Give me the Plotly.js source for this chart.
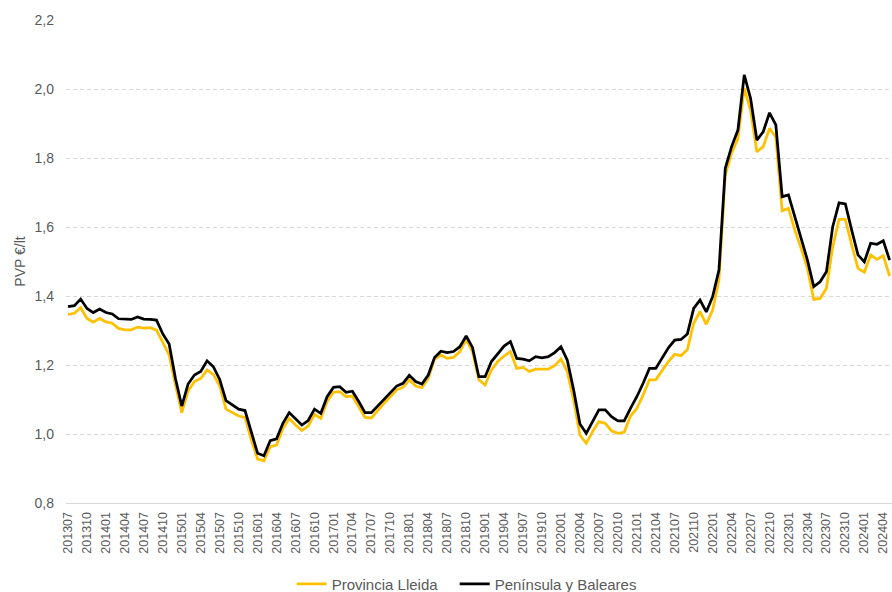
<!DOCTYPE html>
<html>
<head>
<meta charset="utf-8">
<script src="https://cdn.plot.ly/plotly-3.0.1.min.js"></script>
<style>
  html, body { margin: 0; padding: 0; background: #ffffff; }
  #chart { width: 892px; height: 592px; }
</style>
</head>
<body>
<div id="chart"></div>
<script>
// Months (categories)
const months = [
  '201307','201308','201309','201310','201311','201312',
  '201401','201402','201403','201404','201405','201406','201407','201408','201409','201410','201411','201412',
  '201501','201502','201503','201504','201505','201506','201507','201508','201509','201510','201511','201512',
  '201601','201602','201603','201604','201605','201606','201607','201608','201609','201610','201611','201612',
  '201701','201702','201703','201704','201705','201706','201707','201708','201709','201710','201711','201712',
  '201801','201802','201803','201804','201805','201806','201807','201808','201809','201810','201811','201812',
  '201901','201902','201903','201904','201905','201906','201907','201908','201909','201910','201911','201912',
  '202001','202002','202003','202004','202005','202006','202007','202008','202009','202010','202011','202012',
  '202101','202102','202103','202104','202105','202106','202107','202108','202109','202110','202111','202112',
  '202201','202202','202203','202204','202205','202206','202207','202208','202209','202210','202211','202212',
  '202301','202302','202303','202304','202305','202306','202307','202308','202309','202310','202311','202312',
  '202401','202402','202403','202404','202405'
];

// Provincia Lleida (€/lt)
const lleida = [
  1.347,1.350,1.366,1.335,1.324,1.335,
  1.325,1.321,1.306,1.302,1.302,1.310,1.307,1.308,1.301,1.263,1.229,1.142,
  1.062,1.125,1.152,1.161,1.186,1.172,1.140,1.072,1.062,1.052,1.048,0.983,
  0.927,0.922,0.963,0.968,1.016,1.045,1.026,1.010,1.023,1.057,1.045,1.094,
  1.121,1.123,1.108,1.110,1.079,1.048,1.046,1.068,1.089,1.108,1.128,1.135,
  1.157,1.139,1.134,1.161,1.217,1.229,1.219,1.222,1.239,1.274,1.239,1.157,
  1.142,1.186,1.210,1.226,1.239,1.190,1.193,1.181,1.188,1.188,1.188,1.198,
  1.217,1.181,1.099,0.997,0.973,1.007,1.036,1.031,1.009,1.002,1.005,1.052,
  1.074,1.113,1.157,1.157,1.184,1.210,1.231,1.227,1.245,1.321,1.355,1.318,
  1.359,1.446,1.751,1.814,1.857,2.002,1.939,1.818,1.833,1.886,1.860,1.647,
  1.654,1.591,1.538,1.480,1.390,1.393,1.422,1.543,1.622,1.622,1.548,1.480,
  1.469,1.519,1.506,1.517,1.458
];

// Península y Baleares (€/lt)
const peninsula = [
  1.369,1.372,1.391,1.364,1.352,1.362,
  1.352,1.348,1.334,1.333,1.332,1.339,1.333,1.332,1.330,1.290,1.261,1.161,
  1.081,1.145,1.171,1.181,1.212,1.195,1.158,1.097,1.084,1.072,1.068,1.002,
  0.944,0.937,0.981,0.986,1.031,1.062,1.043,1.026,1.039,1.072,1.060,1.108,
  1.135,1.137,1.121,1.124,1.094,1.062,1.062,1.082,1.100,1.120,1.139,1.147,
  1.170,1.152,1.145,1.171,1.222,1.240,1.236,1.239,1.253,1.284,1.251,1.166,
  1.166,1.210,1.234,1.255,1.268,1.219,1.217,1.212,1.224,1.221,1.224,1.236,
  1.253,1.214,1.128,1.029,1.002,1.036,1.070,1.070,1.050,1.038,1.038,1.074,
  1.108,1.147,1.190,1.190,1.219,1.250,1.272,1.274,1.290,1.364,1.388,1.354,
  1.398,1.475,1.770,1.833,1.881,2.041,1.973,1.852,1.876,1.931,1.896,1.688,
  1.693,1.630,1.572,1.504,1.427,1.441,1.470,1.601,1.670,1.667,1.591,1.519,
  1.499,1.553,1.550,1.560,1.504
];

const seriesNames = ['Provincia Lleida', 'Península y Baleares'];
const yAxisTitle = 'PVP €/lt';

const FONT = 'Liberation Sans, Arial, sans-serif';
const GREY = '#595959';

const traces = [
  {
    x: months, y: lleida, name: seriesNames[0],
    type: 'scatter', mode: 'lines',
    legendwidth: 118,
    line: { color: '#FFC000', width: 2.75 }
  },
  {
    x: months, y: peninsula, name: seriesNames[1],
    type: 'scatter', mode: 'lines',
    line: { color: '#000000', width: 2.75 }
  }
];

const layout = {
  width: 892, height: 592,
  margin: { l: 66, r: 0, t: 20, b: 89 },
  paper_bgcolor: '#ffffff', plot_bgcolor: '#ffffff',
  separators: ',.',
  font: { family: FONT, color: GREY },
  showlegend: true,
  legend: {
    orientation: 'h',
    xref: 'container', yref: 'container',
    x: 0.327, xanchor: 'left', y: 0.0135, yanchor: 'middle',
    font: { family: FONT, size: 15, color: GREY },
    bgcolor: 'rgba(0,0,0,0)'
  },
  xaxis: {
    type: 'category',
    range: [-0.32, 130.38],
    tickmode: 'linear', tick0: 0, dtick: 3,
    tickangle: -90,
    tickfont: { family: FONT, size: 12.5, color: GREY },
    ticklabelstandoff: 3,
    showgrid: false, zeroline: false,
    showline: true, linecolor: '#d9d9d9', linewidth: 1,
    ticks: '', automargin: false
  },
  yaxis: {
    range: [0.8, 2.2],
    tick0: 0.8, dtick: 0.2,
    tickformat: '.1f',
    tickfont: { family: FONT, size: 14, color: GREY },
    ticklabelstandoff: 11,
    gridcolor: '#d9d9d9', griddash: '4px,3px', gridwidth: 1,
    zeroline: false, showline: false, ticks: '',
    automargin: false,
    title: { text: yAxisTitle, font: { family: FONT, size: 14, color: GREY }, standoff: 5 }
  }
};

Plotly.newPlot('chart', traces, layout, { displayModeBar: false, staticPlot: true });
</script>
</body>
</html>
